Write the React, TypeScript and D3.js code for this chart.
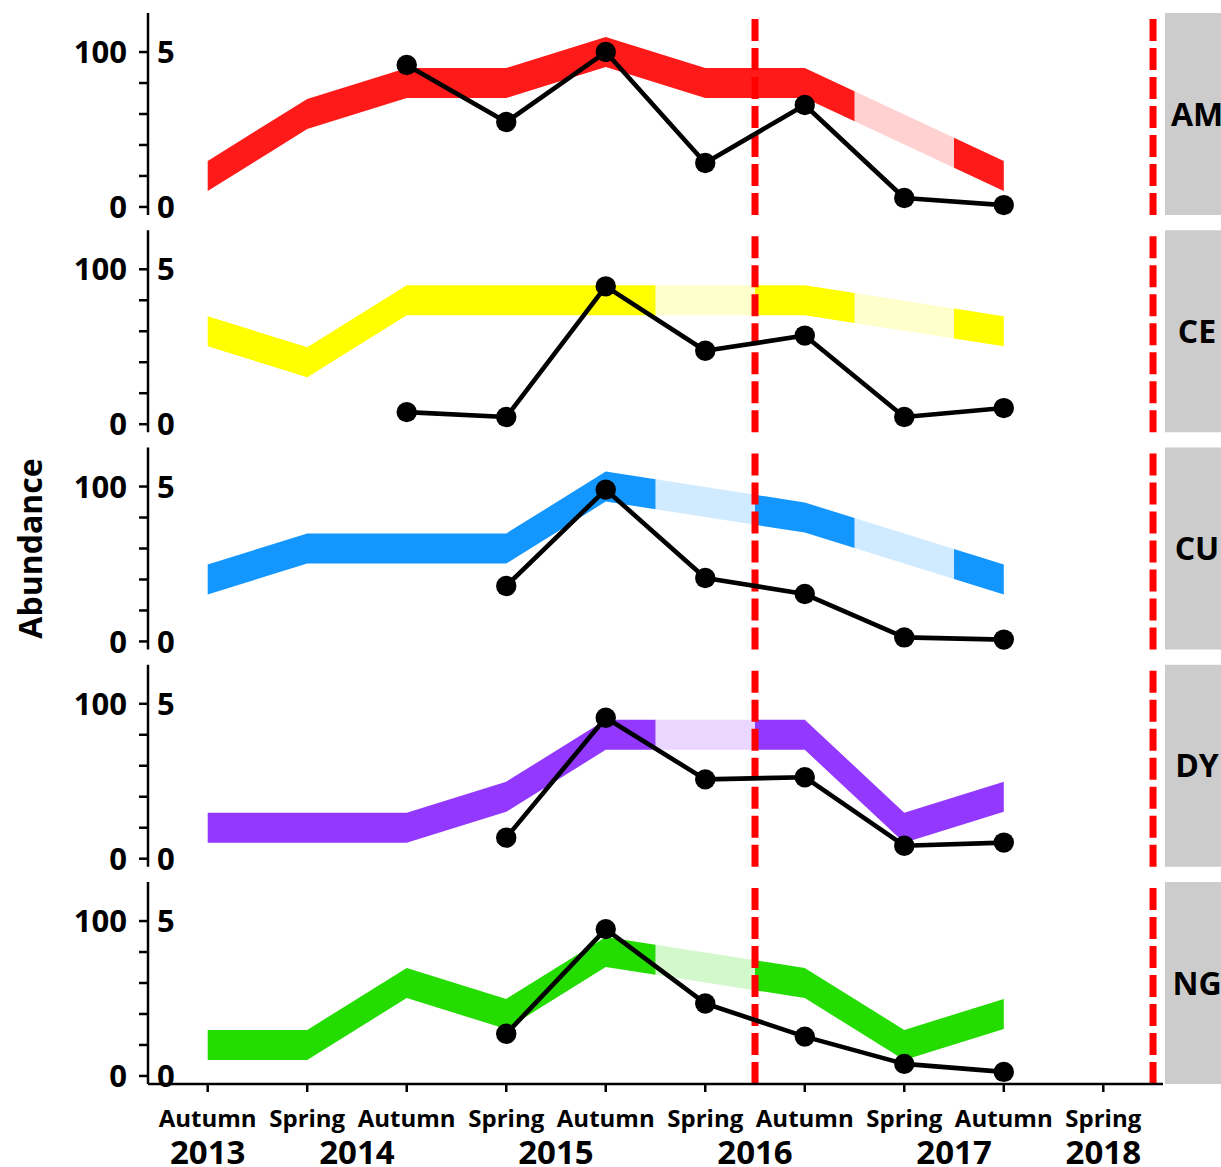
import React from "react";
import * as d3 from "d3";

const seasons = ["Autumn", "Spring", "Autumn", "Spring", "Autumn", "Spring", "Autumn", "Spring", "Autumn", "Spring"];
const years = ["2013", "2014", "2015", "2016", "2017", "2018"];
const yearAt = [0, 1.5, 3.5, 5.5, 7.5, 9];
const breaks = [5.5, 9.5];

const panelNames = ["AM", "CE", "CU", "DY", "NG"];
const bandColors = ["#ff1a1a", "#ffff00", "#1496ff", "#9238ff", "#24dc00"];

const amBand = [20, 60, 80, 80, 100, 80, 80, 50, 20];
const ceBand = [60, 40, 80, 80, 80, 80, 80, 70, 60];
const cuBand = [40, 60, 60, 60, 100, 90, 80, 60, 40];
const dyBand = [20, 20, 20, 40, 80, 80, 80, 20, 40];
const ngBand = [20, 20, 60, 40, 80, 70, 60, 20, 40];

const amCount = [null, null, 4.58, 2.74, 5.0, 1.42, 3.29, 0.29, 0.06];
const ceCount = [null, null, 0.39, 0.23, 4.45, 2.37, 2.86, 0.23, 0.52];
const cuCount = [null, null, null, 1.79, 4.9, 2.05, 1.53, 0.13, 0.06];
const dyCount = [null, null, null, 0.68, 4.55, 2.56, 2.63, 0.42, 0.52];
const ngCount = [null, null, null, 1.36, 4.74, 2.34, 1.27, 0.39, 0.13];

const amLight = [[6.5, 7.5]];
const ceLight = [[4.5, 5.5], [6.5, 7.5]];
const cuLight = [[4.5, 5.5], [6.5, 7.5]];
const dyLight = [[4.5, 5.5]];
const ngLight = [[4.5, 5.5]];

const bands = [amBand, ceBand, cuBand, dyBand, ngBand];
const counts = [amCount, ceCount, cuCount, dyCount, ngCount];
const lights = [amLight, ceLight, cuLight, dyLight, ngLight];

const leftTicks = [0, 20, 40, 60, 80, 100];
const FONT = "'Open Sans', 'DejaVu Sans', sans-serif";

const W = 1221, H = 1167;
const plotL = 148, plotR = 1163;
const panelTop0 = 13, panelStep = 217.25, panelH = 202;
const bandHalf = 9.7;

const x = d3.scaleLinear().domain([-0.6, 9.6]).range([plotL, plotR]);

function interp(arr: number[], t: number) {
  const i = Math.floor(t);
  if (i >= arr.length - 1) return arr[arr.length - 1];
  const f = t - i;
  return arr[i] * (1 - f) + arr[i + 1] * f;
}

function segPoints(arr: number[], a: number, b: number) {
  const pts: [number, number][] = [[a, interp(arr, a)]];
  for (let i = Math.ceil(a); i <= Math.floor(b); i++) {
    if (i > a && i < b) pts.push([i, arr[i]]);
  }
  pts.push([b, interp(arr, b)]);
  return pts;
}

export default function App() {
  return (
    <svg width={W} height={H} style={{ position: "absolute", left: 0, top: 0, background: "#fff" }}>
      {panelNames.map((name, p) => {
        const top = panelTop0 + p * panelStep;
        const y = d3.scaleLinear().domain([-5.2, 125.2]).range([top + panelH, top]);
        const y2 = d3.scaleLinear().domain([0, 5]).range([y(0), y(100)]);
        const band = bands[p];
        const light = lights[p];
        const last = band.length - 1;
        const cuts: [number, number, boolean][] = [];
        let cur = 0;
        light.forEach(([a, b]) => {
          if (a > cur) cuts.push([cur, a, false]);
          cuts.push([a, b, true]);
          cur = b;
        });
        if (cur < last) cuts.push([cur, last, false]);
        const area = d3
          .area<[number, number]>()
          .x((d) => x(d[0]))
          .y0((d) => y(d[1] - bandHalf))
          .y1((d) => y(d[1] + bandHalf));
        const cnt = counts[p];
        const pts = cnt
          .map((v, i) => (v == null ? null : ([i, v] as [number, number])))
          .filter((d) => d != null) as [number, number][];
        const line = d3
          .line<[number, number]>()
          .x((d) => x(d[0]))
          .y((d) => y2(d[1]));
        return (
          <g key={name}>
            {cuts.map(([a, b, isLight], k) => (
              <path
                key={k}
                d={area(segPoints(band, a, b)) || ""}
                fill={bandColors[p]}
                fillOpacity={isLight ? 0.2 : 1}
              />
            ))}
            {breaks.map((bx) => (
              <line
                key={bx}
                x1={x(bx)}
                x2={x(bx)}
                y1={top + panelH}
                y2={top}
                stroke="#ff0000"
                strokeWidth={7}
                strokeDasharray="22 7"
              />
            ))}
            <path d={line(pts) || ""} fill="none" stroke="#000" strokeWidth={4.6} strokeLinejoin="round" />
            {pts.map((d, i) => (
              <circle key={i} cx={x(d[0])} cy={y2(d[1])} r={10.2} fill="#000" />
            ))}
            <line x1={plotL} x2={plotL} y1={top} y2={top + panelH} stroke="#000" strokeWidth={2.5} />
            {leftTicks.map((t) => (
              <line key={t} x1={plotL - 9} x2={plotL} y1={y(t)} y2={y(t)} stroke="#000" strokeWidth={2.5} />
            ))}
            {[0, 100].map((t) => (
              <text
                key={t}
                x={plotL - 21}
                y={y(t)}
                dy="0.36em"
                textAnchor="end"
                fontFamily={FONT}
                fontWeight={700}
                fontSize={31}
              >
                {t}
              </text>
            ))}
            {[0, 5].map((t) => (
              <text
                key={t}
                x={plotL + 9}
                y={y2(t)}
                dy="0.36em"
                textAnchor="start"
                fontFamily={FONT}
                fontWeight={700}
                fontSize={31}
              >
                {t}
              </text>
            ))}
            <rect x={plotR + 2} y={top} width={70} height={panelH} fill="#cccccc" />
            <text
              x={1197}
              y={top + panelH / 2}
              dy="0.36em"
              textAnchor="middle"
              fontFamily={FONT}
              fontWeight={700}
              fontSize={32}
            >
              {name}
            </text>
          </g>
        );
      })}
      {(() => {
        const yAx = panelTop0 + 4 * panelStep + panelH;
        return (
          <g>
            <line x1={plotL} x2={plotR} y1={yAx} y2={yAx} stroke="#000" strokeWidth={2.5} />
            {seasons.map((s, i) => (
              <g key={i}>
                <line x1={x(i)} x2={x(i)} y1={yAx} y2={yAx + 8} stroke="#000" strokeWidth={2.5} />
                <text
                  x={x(i)}
                  y={1118}
                  dy="0.36em"
                  textAnchor="middle"
                  fontFamily={FONT}
                  fontWeight={700}
                  fontSize={24}
                >
                  {s}
                </text>
              </g>
            ))}
            {years.map((yr, i) => (
              <text
                key={yr}
                x={x(yearAt[i])}
                y={1152}
                dy="0.36em"
                textAnchor="middle"
                fontFamily={FONT}
                fontWeight={700}
                fontSize={33}
              >
                {yr}
              </text>
            ))}
          </g>
        );
      })()}
      <text
        transform={`translate(42, ${panelTop0 + (4 * panelStep + panelH) / 2}) rotate(-90)`}
        textAnchor="middle"
        fontFamily={FONT}
        fontWeight={700}
        fontSize={32}
      >
        Abundance
      </text>
    </svg>
  );
}
